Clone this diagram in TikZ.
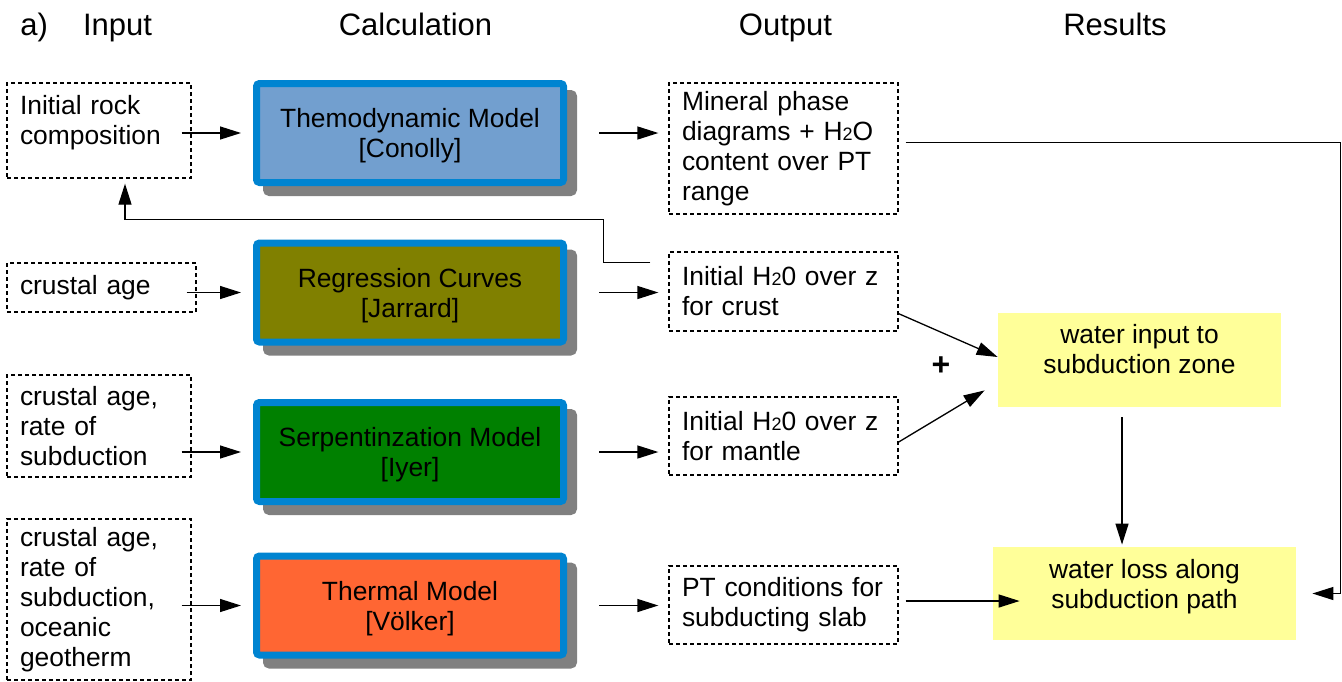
\documentclass[tikz,border=0pt]{standalone}
\usepackage{fontspec}
\setmainfont{Liberation Sans}
\usetikzlibrary{arrows.meta,shapes,shadows}
\definecolor{frameblue}{HTML}{0084D1}
\definecolor{thermoblue}{HTML}{729FCF}
\definecolor{regolive}{HTML}{808000}
\definecolor{serpgreen}{HTML}{008000}
\definecolor{heatorange}{HTML}{FF6633}
\definecolor{shadowgray}{HTML}{808080}
\definecolor{resyellow}{HTML}{FFFF99}
\tikzstyle{heading}=[font=\fontsize{15.5}{18}\selectfont, inner sep=0pt, anchor=base]
\tikzstyle{dashbox}=[rectangle, draw, line width=0.65pt, dash pattern=on 2pt off 1.5pt, align=left, inner xsep=6.5pt, inner ysep=0pt]
\tikzstyle{inbox}=[dashbox, minimum width=92pt, text width=79pt]
\tikzstyle{outbox}=[dashbox, minimum width=114.5pt, text width=101.5pt]
\tikzstyle{model}=[rectangle, rounded corners=1.5pt, draw=frameblue, line width=3.5pt, minimum width=153.5pt, minimum height=49.5pt, align=center,
  text depth=-1.7pt, drop shadow={shadow xshift=5pt, shadow yshift=-5pt, fill=shadowgray, draw=shadowgray, opacity=1}]
\tikzstyle{result}=[rectangle, fill=resyellow, align=center, inner sep=0pt]
\tikzstyle{arr}=[draw, line width=0.65pt, -{Triangle[length=10.5pt,width=6.5pt]}]
\newcommand{\htwo}{H{\fontsize{9}{9}\selectfont 2}}

\begin{document}
\begin{tikzpicture}[x=0.5pt, y=-0.5pt, font=\fontsize{13.2}{15}\selectfont]
    \useasboundingbox (0,0) rectangle (1342,681);
    % column headings
    \node[heading, anchor=base west] (hlabel) at (20,35) {a)};
    \foreach \x/\name/\txt in {117.5/hin/Input, 415.5/hcalc/Calculation,
    785.5/hout/Output, 1115/hres/Results}
        \node[heading] (\name) at (\x,35) {\txt};
    % inputs
    \foreach \pos/\name/\boxw/\boxh/\val in {{(99,130.5)/in1/92pt/47.5pt/{Initial rock\\composition\\[-4pt]\mbox{}}},
    {(101.5,287.5)/in2/94.5pt/24.5pt/{crustal age}},
    {(99,426)/in3/92pt/51pt/{crustal age,\\rate of\\subduction}},
    {(99,599.5)/in4/92pt/80.5pt/{crustal age,\\rate of\\subduction,\\oceanic\\geotherm}}}
        \node[inbox, minimum width=\boxw, text width=\boxw-13pt, minimum height=\boxh] (\name) at \pos {\val};
    % models
    \foreach \pos/\name/\col/\val in {{(410,133)/calc1/thermoblue/{Themodynamic Model\\{[Conolly]}}},
    {(410,292.5)/calc2/regolive/{Regression Curves\\{[Jarrard]}}},
    {(410,452)/calc3/serpgreen/{Serpentinzation Model\\{[Iyer]}}},
    {(410,605.5)/calc4/heatorange/{Thermal Model\\{[Völker]}}}}
        \node[model, fill=\col] (\name) at \pos {\val};
    % outputs
    \foreach \pos/\name/\boxh/\val in {{(783.5,148.5)/out1/65.5pt/{Mineral phase\\diagrams + \htwo O\\content over PT\\range}},
    {(783.5,291.5)/out2/39.5pt/{Initial \htwo 0 over z\\for crust}},
    {(783.5,436)/out3/39pt/{Initial \htwo 0 over z\\for mantle}},
    {(783.5,605)/out4/39pt/{PT conditions for\\subducting slab}}}
        \node[outbox, minimum height=\boxh] (\name) at \pos {\val};
    % results
    \node[result, minimum width=141.5pt, minimum height=47pt] (res1) at (1139.5,360)
        {water input to\\subduction zone\\[-4pt]\mbox{}};
    \node[result, minimum width=151.5pt, minimum height=46.5pt] (res2) at (1144.5,593.5)
        {water loss along\\subduction path\\[-5.5pt]\mbox{}};
    \node[font=\bfseries\fontsize{16}{16}\selectfont] (plus) at (941,366) {+};

    % connectors
    \foreach \source/\dest in {in1/calc1, in2/calc2, in3/calc3, in4/calc4}
        \path[arr, shorten <=-5pt, shorten >=6pt] (\source.east |- \dest.west) -- (\dest.west);
    \foreach \source/\dest in {calc1/out1, calc2/out2, calc3/out3, calc4/out4}
        \path[arr, shorten <=16pt, shorten >=5pt] (\source.east) -- (\source.east -| \dest.west);
    \path[arr, shorten >=2.5pt] ([shift={(-9pt,-5.5pt)}]out2.north west) -- ++(-47,0) -- ++(0,-43)
        -| ([xshift=13pt]in1.south);
    \path[arr, shorten <=3.5pt, shorten >=8pt] ([yshift=3pt]out1.east) -- ++(442,0) |- (res2.east);
    \path[arr] ([yshift=9pt]out2.south east) -- ([yshift=1.5pt]res1.west);
    \path[arr] ([yshift=-3pt]out3.east) -- ([shift={(-6.5pt,8.5pt)}]res1.south west);
    \path[arr, shorten <=5pt, shorten >=1pt] ([xshift=-8.75pt]res1.south) -- ([xshift=-8.75pt]res1.south |- res2.north);
    \path[arr, shorten <=3.5pt, shorten >=-13.5pt] ([yshift=2pt]out4.east) -- ([yshift=2pt]out4.east -| res2.west);
\end{tikzpicture}
\end{document}
